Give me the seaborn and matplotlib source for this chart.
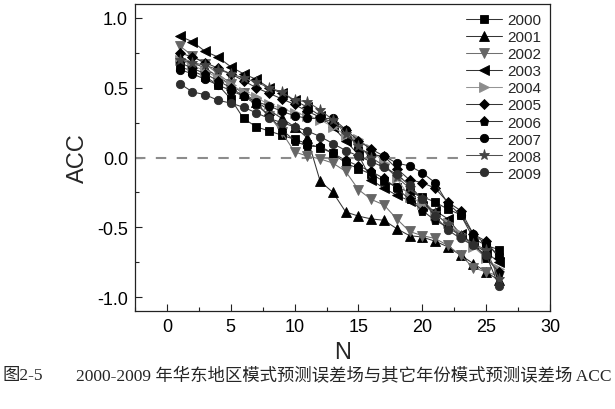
import matplotlib
matplotlib.use('Agg')
import matplotlib.pyplot as plt
from matplotlib.ticker import MultipleLocator, FormatStrFormatter
import seaborn as sns

# forecast number N and ACC of each year
n = list(range(1, 27))

acc_2000 = [0.65, 0.62, 0.58, 0.52, 0.42, 0.28, 0.22, 0.19, 0.16, 0.13, 0.10, 0.07, 0.03,
            -0.04, -0.08, -0.12, -0.17, -0.21, -0.25, -0.28, -0.32, -0.37, -0.41, -0.58, -0.63, -0.66]
acc_2001 = [0.72, 0.68, 0.64, 0.58, 0.52, 0.46, 0.40, 0.34, 0.28, 0.22, 0.14, -0.17, -0.25,
            -0.39, -0.42, -0.44, -0.45, -0.51, -0.56, -0.57, -0.60, -0.64, -0.70, -0.76, -0.82, -0.88]
acc_2002 = [0.80, 0.73, 0.67, 0.60, 0.53, 0.46, 0.39, 0.30, 0.18, 0.04, 0.01, -0.01, -0.04,
            -0.10, -0.23, -0.30, -0.34, -0.44, -0.53, -0.56, -0.58, -0.63, -0.70, -0.79, -0.82, -0.85]
acc_2003 = [0.87, 0.83, 0.76, 0.72, 0.65, 0.60, 0.56, 0.50, 0.46, 0.41, 0.36, 0.30, 0.22,
            0.12, 0.02, -0.16, -0.22, -0.27, -0.31, -0.35, -0.38, -0.44, -0.55, -0.62, -0.68, -0.75]
acc_2004 = [0.70, 0.66, 0.62, 0.57, 0.52, 0.47, 0.43, 0.38, 0.35, 0.32, 0.30, 0.27, 0.22,
            0.16, 0.13, 0.06, -0.04, -0.15, -0.28, -0.33, -0.41, -0.47, -0.55, -0.64, -0.72, -0.80]
acc_2005 = [0.75, 0.72, 0.68, 0.64, 0.60, 0.55, 0.50, 0.46, 0.42, 0.38, 0.33, 0.29, 0.25,
            0.20, 0.12, 0.06, 0.01, -0.08, -0.16, -0.18, -0.22, -0.32, -0.38, -0.55, -0.60, -0.72]
acc_2006 = [0.68, 0.64, 0.60, 0.55, 0.50, 0.44, 0.38, 0.30, 0.20, 0.12, 0.08, 0.08, 0.03,
            -0.02, -0.06, -0.10, -0.15, -0.22, -0.30, -0.38, -0.45, -0.50, -0.56, -0.62, -0.72, -0.82]
acc_2007 = [0.63, 0.60, 0.56, 0.52, 0.48, 0.44, 0.40, 0.37, 0.33, 0.30, 0.28, 0.28, 0.28,
            0.20, 0.07, 0.02, 0.01, -0.04, -0.06, -0.11, -0.18, -0.33, -0.41, -0.55, -0.62, -0.70]
acc_2008 = [0.70, 0.68, 0.66, 0.63, 0.60, 0.57, 0.54, 0.50, 0.47, 0.41, 0.40, 0.34, 0.27,
            0.17, 0.08, 0.00, -0.06, -0.14, -0.22, -0.30, -0.40, -0.48, -0.56, -0.62, -0.66, -0.87]
acc_2009 = [0.53, 0.47, 0.45, 0.41, 0.39, 0.36, 0.32, 0.28, 0.25, 0.22, 0.19, 0.15, 0.10,
            0.05, 0.01, -0.03, -0.07, -0.12, -0.20, -0.30, -0.42, -0.52, -0.58, -0.63, -0.70, -0.92]

years = ['2000', '2001', '2002', '2003', '2004', '2005', '2006', '2007', '2008', '2009']
series = [acc_2000, acc_2001, acc_2002, acc_2003, acc_2004,
          acc_2005, acc_2006, acc_2007, acc_2008, acc_2009]

markers = ['s', '^', 'v', '<', '>', 'D', 'p', 'o', '*', 'o']
sizes = [5.5, 6.5, 6.5, 6.5, 6.5, 5, 6.5, 6, 8, 6]
marker_colors = ['black', 'black', '#666666', 'black', '#8c8c8c',
                 'black', 'black', 'black', '#454545', '#2e2e2e']
line_colors = ['#353535', '#353535', '#707070', '#353535', '#959595',
               '#353535', '#353535', '#353535', '#505050', '#353535']

sns.set_style('ticks')
plt.rcParams['font.family'] = ['Liberation Sans', 'DejaVu Sans']
plt.rcParams['axes.unicode_minus'] = False

fig = plt.figure(figsize=(6.15, 4.1), dpi=100)
ax = fig.add_axes([0.2195, 0.239, 0.6748, 0.7488])

# zero reference line
ax.axhline(0, xmin=0, xmax=0.79, color='#8c8c8c', linestyle=(0, (5, 5)), linewidth=1.5, zorder=1)

for year, vals, m, ms, mc, lc in zip(years, series, markers, sizes, marker_colors, line_colors):
    sns.lineplot(x=n, y=vals, ax=ax, color=lc, marker=m, markersize=ms,
                 markerfacecolor=mc, markeredgecolor=mc, markeredgewidth=0.6,
                 linewidth=0.75, label=year, zorder=3)

ax.set_xlim(-2.5, 30)
ax.set_ylim(-1.1, 1.1)
ax.xaxis.set_major_locator(MultipleLocator(5))
ax.xaxis.set_minor_locator(MultipleLocator(2.5))
ax.yaxis.set_major_locator(MultipleLocator(0.5))
ax.yaxis.set_minor_locator(MultipleLocator(0.25))
ax.yaxis.set_major_formatter(FormatStrFormatter('%.1f'))
ax.tick_params(which='both', direction='in', colors='#222222', labelcolor='black')
ax.tick_params(which='major', length=5, width=0.8, labelsize=13, pad=5)
ax.tick_params(which='minor', length=3, width=0.8)
for sp in ax.spines.values():
    sp.set_linewidth(0.9)
    sp.set_color('#222222')
    sp.set_visible(True)

ax.set_xlabel('N', fontsize=17, labelpad=4)
ax.set_ylabel('ACC', fontsize=17, labelpad=6)

ax.legend(loc='upper right', bbox_to_anchor=(1.0, 1.0), frameon=False, fontsize=11,
          handlelength=2.4, handletextpad=0.3, labelspacing=0.2, borderaxespad=0.2)

cap_font = ['Liberation Serif', 'Noto Sans CJK SC']
fig.text(2 / 615, 0.083, '图2-5', fontsize=12.5, family=cap_font, va='center', ha='left')
fig.text(76 / 615, 0.083, '2000-2009 年华东地区模式预测误差场与其它年份模式预测误差场 ACC',
         fontsize=12.5, family=cap_font, va='center', ha='left')

fig.savefig('out.png', dpi=100)
